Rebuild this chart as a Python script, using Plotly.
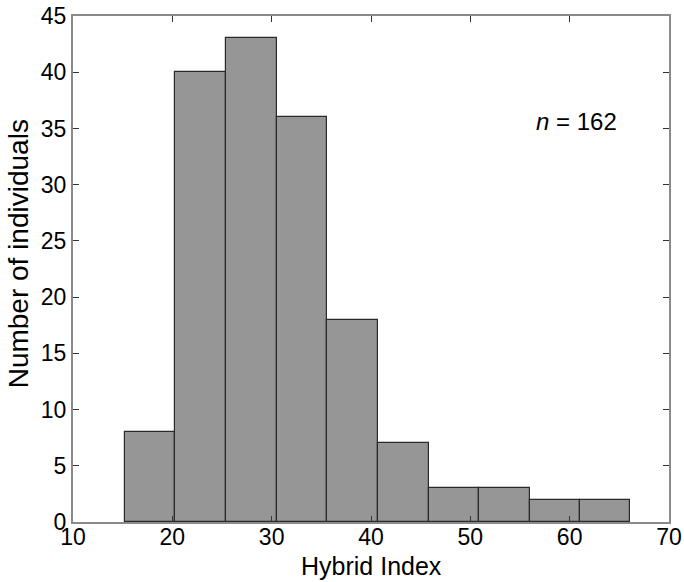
import plotly.graph_objects as go

bin_edges = [15.2, 20.3, 25.4, 30.5, 35.6, 40.7, 45.8, 50.9, 56.0, 61.0, 66.1]
counts = [8, 40, 43, 36, 18, 7, 3, 3, 2, 2]
x_ticks = [10, 20, 30, 40, 50, 60, 70]
y_ticks = [0, 5, 10, 15, 20, 25, 30, 35, 40, 45]
n_total = sum(counts)

centers = [(a + b) / 2 for a, b in zip(bin_edges[:-1], bin_edges[1:])]
widths = [b - a for a, b in zip(bin_edges[:-1], bin_edges[1:])]

fig = go.Figure()
fig.add_trace(go.Bar(
    x=centers, y=counts, width=widths,
    marker=dict(color="#969696", line=dict(color="#2a2a2a", width=1.2)),
    showlegend=False, hoverinfo="skip",
))

font_family = "Liberation Sans, Arial, sans-serif"
fig.update_layout(
    width=684, height=582,
    margin=dict(l=73, r=15, t=16, b=60, autoexpand=False),
    plot_bgcolor="white", paper_bgcolor="white",
    font=dict(family=font_family, color="black"),
    bargap=0,
    xaxis=dict(
        range=[10, 70], tickvals=x_ticks, ticks="inside", ticklen=6,
        tickcolor="#333", showline=True, linecolor="#8a8a8a", linewidth=2,
        mirror="ticks", showgrid=False, zeroline=False, automargin=False,
        tickfont=dict(size=23, family=font_family), ticklabelstandoff=-7,
    ),
    yaxis=dict(
        range=[0, 45], tickvals=y_ticks, ticks="inside", ticklen=6,
        tickcolor="#333", showline=True, linecolor="#8a8a8a", linewidth=2,
        mirror="ticks", showgrid=False, zeroline=False, automargin=False,
        tickfont=dict(size=23, family=font_family),
    ),
    annotations=[
        dict(x=60.7, y=35.6, xref="x", yref="y", showarrow=False,
             text=f"<i>n</i> = {n_total}", font=dict(size=24, family=font_family)),
        dict(x=0.5, y=-0.087, xref="paper", yref="paper", showarrow=False,
             xanchor="center", yanchor="middle",
             text="Hybrid Index", font=dict(size=25, family=font_family)),
        dict(x=-0.0914, y=0.53, xref="paper", yref="paper", showarrow=False,
             xanchor="center", yanchor="middle", textangle=-90,
             text="Number of individuals", font=dict(size=28, family=font_family)),
    ],
)

fig.write_html("out.html", config={"displayModeBar": False},
               post_script="document.body.style.margin='0';")
